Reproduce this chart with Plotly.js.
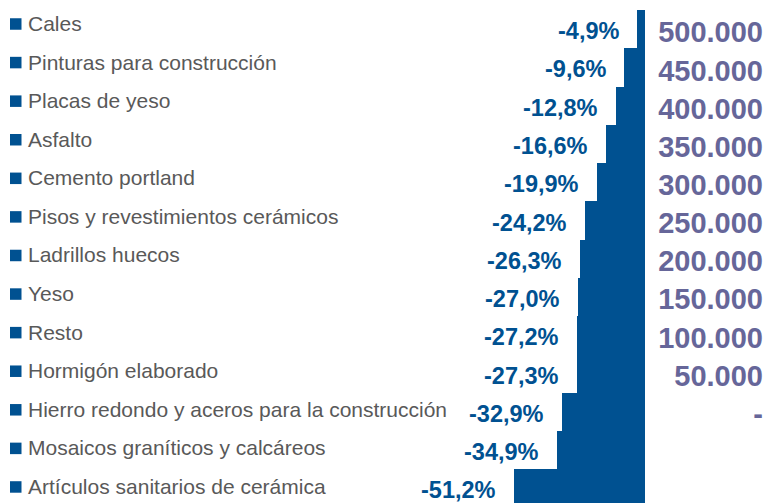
<!DOCTYPE html>
<html>
<head>
<meta charset="utf-8">
<script src="https://cdn.plot.ly/plotly-3.0.1.min.js"></script>
<style>html,body{margin:0;padding:0;background:#fff;}#chart{width:767px;height:503px;}</style>
</head>
<body>
<div id="chart"></div>
<script>
const categories = [
  "Cales",
  "Pinturas para construcción",
  "Placas de yeso",
  "Asfalto",
  "Cemento portland",
  "Pisos y revestimientos cerámicos",
  "Ladrillos huecos",
  "Yeso",
  "Resto",
  "Hormigón elaborado",
  "Hierro redondo y aceros para la construcción",
  "Mosaicos graníticos y calcáreos",
  "Artículos sanitarios de cerámica"
];
const variations = [-4.9, -9.6, -12.8, -16.6, -19.9, -24.2, -26.3, -27.0, -27.2, -27.3, -32.9, -34.9, -51.2];
const rightTickVals = [0, 50000, 100000, 150000, 200000, 250000, 300000, 350000, 400000, 450000, 500000];
const rightTickText = ["-", "50.000", "100.000", "150.000", "200.000", "250.000", "300.000", "350.000", "400.000", "450.000", "500.000"];

const BLUE = "#005191";
const FONT = "Liberation Sans, Arial, sans-serif";

// legend-like label layout (pixels)
const PLOT_TOP = 10, PLOT_H = 493;
const LEG_FIRST = 24, LEG_STEP = 38.58;

const fmt = v => v.toFixed(1).replace('.', ',') + '%';

const traces = [
  {
    type: 'bar',
    orientation: 'h',
    x: variations,
    y: categories,
    marker: {color: BLUE, line: {width: 0}},
    hoverinfo: 'skip',
    showlegend: false
  },
  {
    type: 'scatter',
    x: [],
    y: [],
    yaxis: 'y2',
    showlegend: false,
    hoverinfo: 'skip'
  }
];

const annotations = [];
const shapes = [];
categories.forEach((c, i) => {
  const py = (PLOT_TOP + PLOT_H - (LEG_FIRST + LEG_STEP * i)) / PLOT_H;
  annotations.push({
    x: 0, xref: 'paper', xanchor: 'left', xshift: 25.5,
    y: py, yref: 'paper', yanchor: 'middle', yshift: 0.5,
    text: c, showarrow: false,
    font: {family: FONT, size: 21, color: '#595959'}
  });
  annotations.push({
    x: variations[i], xref: 'x', xanchor: 'right', xshift: -16,
    y: c, yref: 'y', yanchor: 'middle', yshift: -2,
    text: fmt(variations[i]), showarrow: false,
    font: {family: FONT, size: 23.5, color: BLUE, weight: 'bold'}
  });
  shapes.push({
    type: 'rect', xref: 'paper', xsizemode: 'pixel', xanchor: 0, x0: 10, x1: 21.5,
    yref: 'paper', ysizemode: 'pixel', yanchor: py, y0: -5.75, y1: 5.75,
    fillcolor: BLUE, line: {width: 0}, layer: 'above'
  });
});

const layout = {
  width: 767, height: 503,
  margin: {l: 0, r: 0, t: PLOT_TOP, b: 0, pad: 0},
  paper_bgcolor: '#ffffff', plot_bgcolor: 'rgba(0,0,0,0)',
  bargap: 0,
  font: {family: FONT},
  xaxis: {
    domain: [0, 645 / 767],
    range: [-245.1, -1.7],
    showgrid: false, zeroline: false, showticklabels: false, showline: false, ticks: ''
  },
  yaxis: {
    type: 'category',
    range: [12.38, -0.5],
    showgrid: false, zeroline: false, showticklabels: false, showline: false, ticks: ''
  },
  yaxis2: {
    overlaying: 'y', side: 'right', anchor: 'free', position: 1,
    range: [-117038, 529096],
    tickmode: 'array', tickvals: rightTickVals, ticktext: rightTickText,
    ticklabelposition: 'inside', ticks: '', ticklabelstandoff: 1,
    showgrid: false, zeroline: false, showline: false,
    tickfont: {family: FONT, size: 29, color: '#666699', weight: 'bold'}
  },
  annotations: annotations,
  shapes: shapes,
  showlegend: false
};

Plotly.newPlot('chart', traces, layout, {staticPlot: true, displayModeBar: false});
</script>
</body>
</html>
